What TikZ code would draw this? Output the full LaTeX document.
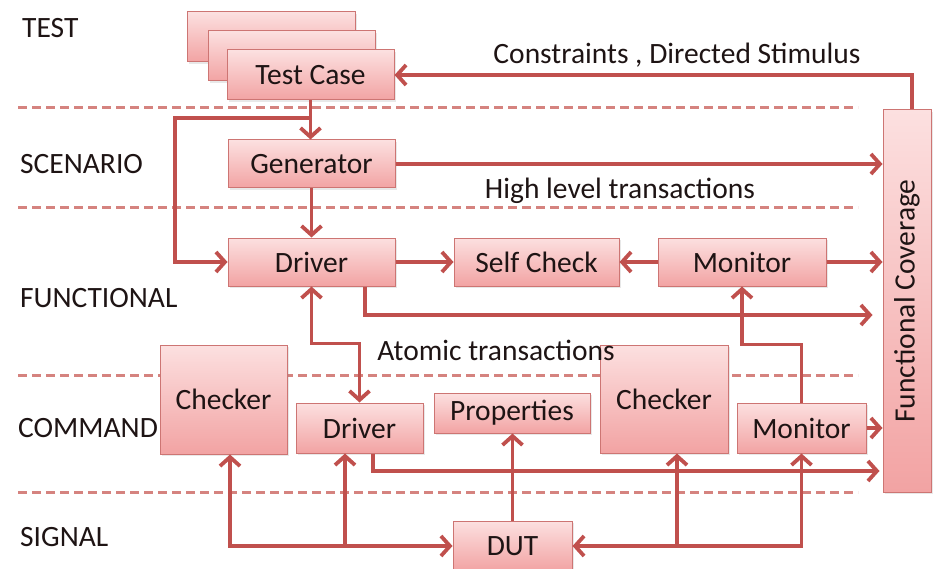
\documentclass[tikz,border=0pt]{standalone}
\usepackage{fontspec}
\setmainfont{Carlito}
\usetikzlibrary{arrows.meta,shadows,calc}
\definecolor{edge}{HTML}{C0504D}
\definecolor{boxtop}{HTML}{FCE0E0}
\definecolor{boxbot}{HTML}{F2A3A3}
\definecolor{frame}{HTML}{CD7573}
\definecolor{dashc}{HTML}{D5837F}
\definecolor{ink}{HTML}{1E1414}
\begin{document}
\begin{tikzpicture}[x=1pt,y=-1pt,
  font=\fontsize{29.5}{34}\selectfont,
  block/.style={draw=frame, line width=1pt, top color=boxtop, bottom color=boxbot,
    inner sep=0pt, text=ink,
    drop shadow={opacity=0.18, shadow xshift=2pt, shadow yshift=-2pt}},
  lbl/.style={text=ink, inner sep=0pt},
  sep/.style={draw=dashc, line width=3pt, dash pattern=on 9pt off 5pt},
  tip/.tip={Straight Barb[length=9pt,width=20pt]},
  arr/.style={draw=edge, line width=3.8pt, -tip},
  arrboth/.style={draw=edge, line width=3.8pt, tip-tip}]
\useasboundingbox (0,0) rectangle (933,569);

% layer separators
\foreach \yy in {108,208,375,492}
  \draw[sep] (18,\yy) -- (858,\yy);

% layer names
\node[lbl, anchor=west] (lTest) at (22,28)  {TEST};
\node[lbl, anchor=west] (lScen) at (20,164) {SCENARIO};
\node[lbl, anchor=west] (lFunc) at (20,298) {FUNCTIONAL};
\node[lbl, anchor=west] (lCmd)  at (18,428) {COMMAND};
\node[lbl, anchor=west] (lSig)  at (20,537) {SIGNAL};

% test layer: stacked test cases
\node[block, minimum width=168pt, minimum height=50pt] (back1) at (271,37) {};
\node[block, minimum width=167pt, minimum height=50pt] (back2) at (291.5,56) {};
\node[block, minimum width=167pt, minimum height=50pt] (tc) at (310.5,75) {Test Case};

% scenario and functional layers
\node[block, minimum width=167pt, minimum height=48pt] (gen)  at (311.5,164) {Generator};
\node[block, minimum width=167pt, minimum height=48pt] (drvF) at (311.5,262) {Driver};
\node[block, minimum width=165pt, minimum height=48pt] (self) at (536.5,262) {Self Check};
\node[block, minimum width=168pt, minimum height=48pt] (monF) at (742,262)   {Monitor};

% coverage collector
\node[block, minimum width=48pt, minimum height=382pt] (cov) at (907,301) {};
\node[lbl, rotate=90] (covText) at (cov.center) {Functional Coverage};

% command layer
\node[block, minimum width=127pt, minimum height=109pt] (chkL)  at (223.5,399.5) {Checker};
\node[block, minimum width=127pt, minimum height=50pt]  (drvC)  at (359.5,428)   {Driver};
\node[block, minimum width=156pt, minimum height=40pt]  (props) at (512,413)     {Properties};
\node[block, minimum width=128pt, minimum height=108pt] (chkR)  at (664,399)     {Checker};
\node[block, minimum width=129pt, minimum height=50pt]  (monC)  at (801.5,428)   {Monitor};

% signal layer
\node[block, minimum width=119pt, minimum height=50pt] (dut) at (512.5,546) {DUT};

% transaction labels, set over the boxes
\node[lbl] (tCons) at (677,55)  {Constraints , Directed Stimulus};
\node[lbl] (tHigh) at (620,191) {High level transactions};
\node[lbl] (tAtom) at (496,350) {Atomic transactions};

% connectors
\coordinate (bendL) at (175,118);
\draw[arr] ([xshift=5pt]cov.north) |- (tc.east);
\draw[arr] (tc.south) -- (tc.south |- gen.north);
\draw[arr] (tc.south |- bendL) -- (bendL) |- (drvF.west);
\draw[arr] (gen.east) -- (gen.east -| cov.west);
\draw[arr] (gen.south) -- (gen.south |- drvF.north);
\draw[arr] (drvF.east) -- (self.west);
\draw[arr] (monF.west) -- (self.east);
\draw[arr] (monF.east) -- (monF.east -| cov.west);
\draw[arr] ([xshift=53.5pt]drvF.south) |- ([xshift=-10pt]cov.west |- 0,315);
\draw[arrboth] (drvF.south) -- ++(0,57) -| (drvC.north);
\draw[arr] (monC.north) -- ++(0,-58) -| (monF.south);
\draw[arr] ([xshift=13.5pt]drvC.south) |- ([xshift=-3pt]cov.west |- 0,471);
\draw[arr] (monC.east) -- (monC.east -| cov.west);

\coordinate (chkLfoot) at ([xshift=6.5pt]chkL.south);
\coordinate (drvCfoot) at ([xshift=-14.5pt]drvC.south);
\coordinate (chkRfoot) at ([xshift=13pt]chkR.south);
\draw[arrboth] (chkLfoot) |- (dut.west);
\draw[arr] (drvCfoot |- dut.west) -- (drvCfoot);
\draw[arr] (dut.north) -- (dut.north |- props.south);
\draw[arrboth] (monC.south) |- (dut.east);
\draw[arr] (chkRfoot |- dut.east) -- (chkRfoot);
\end{tikzpicture}
\end{document}
